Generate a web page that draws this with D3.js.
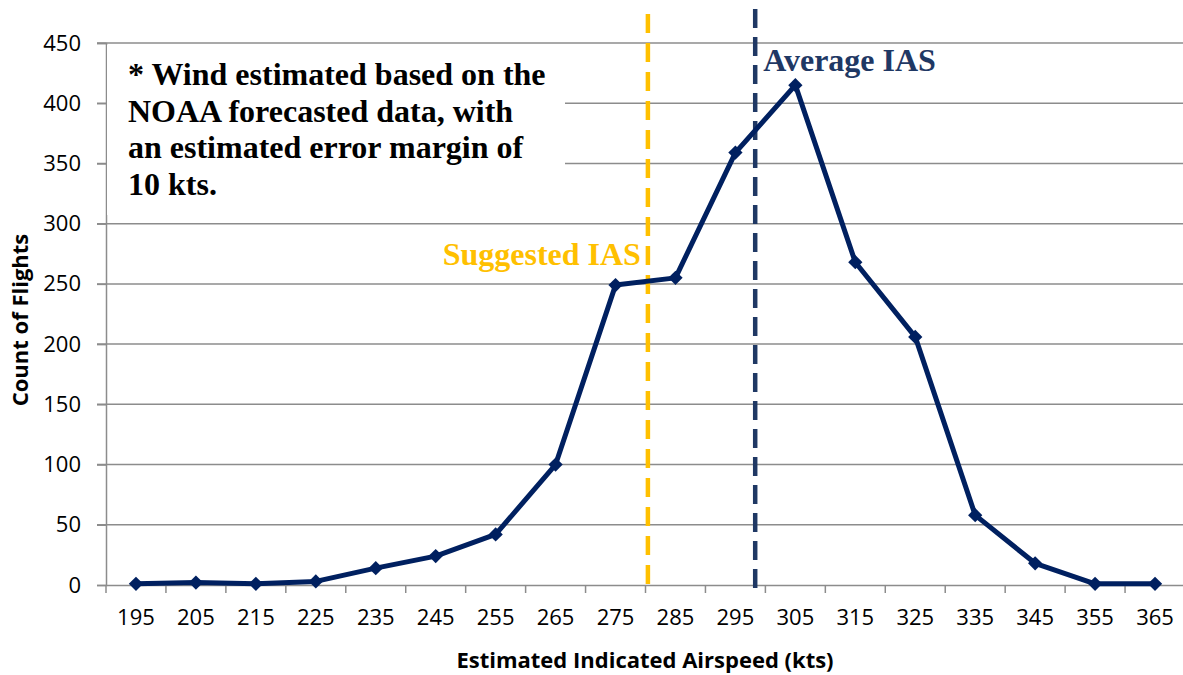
<!DOCTYPE html>
<html>
<head>
<meta charset="utf-8">
<script src="https://cdn.jsdelivr.net/npm/d3@7"></script>
<style>
  body { margin: 0; background: #fff; }
  svg { display: block; }
</style>
</head>
<body>
<svg></svg>
<script>
let speeds = [195, 205, 215, 225, 235, 245, 255, 265, 275, 285, 295, 305, 315, 325, 335, 345, 355, 365];
let counts = [1, 2, 1, 3, 14, 24, 42, 100, 249, 255, 359, 415, 268, 206, 58, 18, 1, 1];
let yTicks = [0, 50, 100, 150, 200, 250, 300, 350, 400, 450];
let suggestedIAS = 280.4;
let averageIAS = 298.3;
let noteLines = ['* Wind estimated based on the', 'NOAA forecasted data, with', 'an estimated error margin of', '10 kts.'];

let width = 1183;
let height = 675;
let margin = { top: 43, right: -2, bottom: 90, left: 106 };

let svg = d3.select('svg')
    .attr('width', width)
    .attr('height', height);

let x = d3.scaleBand()
    .domain(speeds)
    .range([margin.left, width - margin.right]);

// continuous helper for the reference lines
let xLin = d3.scaleLinear()
    .domain([speeds[0], speeds[speeds.length - 1]])
    .range([x(speeds[0]) + x.bandwidth() / 2, x(speeds[speeds.length - 1]) + x.bandwidth() / 2]);

let y = d3.scaleLinear()
    .domain([0, 450])
    .range([height - margin.bottom, margin.top]);

let grid = '#8c8c8c';
let serif = 'Liberation Serif, Times New Roman, serif';
let sans = 'Open Sans, sans-serif';

// gridlines
svg.append('g')
    .selectAll('line')
    .data(yTicks.filter(d => d > 0))
    .enter()
    .append('line')
        .attr('x1', margin.left - 9)
        .attr('x2', width - margin.right)
        .attr('y1', d => y(d))
        .attr('y2', d => y(d))
        .attr('stroke', grid)
        .attr('stroke-width', 1.5);

// y axis
let yAxis = svg.append('g')
    .attr('transform', `translate(${margin.left},0)`)
    .call(d3.axisLeft(y).tickValues(yTicks).tickSize(9).tickPadding(16));
yAxis.select('.domain').attr('stroke', grid).attr('stroke-width', 1.5);
yAxis.selectAll('.tick line').attr('stroke', grid).attr('stroke-width', 1.5);
yAxis.selectAll('text')
    .attr('font-family', sans)
    .attr('font-size', 22)
    .attr('fill', '#000');

// x axis
let xAxis = svg.append('g')
    .attr('transform', `translate(0,${y(0)})`)
    .call(d3.axisBottom(x).tickSize(0).tickPadding(24));
xAxis.select('.domain').attr('stroke', grid).attr('stroke-width', 1.5);
xAxis.selectAll('text')
    .attr('font-family', sans)
    .attr('font-size', 22)
    .attr('fill', '#000');
// ticks between categories
xAxis.selectAll('.cat-tick')
    .data(speeds)
    .enter()
    .append('line')
        .attr('x1', d => x(d))
        .attr('x2', d => x(d))
        .attr('y1', 0)
        .attr('y2', 8)
        .attr('stroke', grid)
        .attr('stroke-width', 1.5);

// annotation box
let note = svg.append('g');
note.append('rect')
    .attr('x', margin.left + 1)
    .attr('y', margin.top + 2)
    .attr('width', 458)
    .attr('height', 170)
    .attr('fill', '#fff');
note.append('text')
    .attr('font-family', serif)
    .attr('font-weight', 'bold')
    .attr('font-size', 32)
    .attr('fill', '#000')
    .selectAll('tspan')
    .data(noteLines)
    .enter()
    .append('tspan')
        .attr('x', 128)
        .attr('y', (d, i) => 85 + i * 36.7)
        .text(d => d);

// reference lines
svg.append('line')
    .attr('x1', xLin(suggestedIAS))
    .attr('x2', xLin(suggestedIAS))
    .attr('y1', 14)
    .attr('y2', y(0))
    .attr('stroke', '#ffc000')
    .attr('stroke-width', 4.5)
    .attr('stroke-dasharray', '19 10');

svg.append('line')
    .attr('x1', xLin(averageIAS))
    .attr('x2', xLin(averageIAS))
    .attr('y1', 9)
    .attr('y2', y(0) + 6)
    .attr('stroke', '#1f3864')
    .attr('stroke-width', 4.5)
    .attr('stroke-dasharray', '19 9');

// data line
let line = d3.line()
    .x((d, i) => x(speeds[i]) + x.bandwidth() / 2)
    .y(d => y(d));

svg.append('path')
    .datum(counts)
    .attr('fill', 'none')
    .attr('stroke', '#002060')
    .attr('stroke-width', 5)
    .attr('stroke-linejoin', 'round')
    .attr('d', line);

svg.append('g')
    .selectAll('path')
    .data(counts)
    .enter()
    .append('path')
        .attr('d', d3.symbol().type(d3.symbolDiamond2).size(130))
        .attr('transform', (d, i) => `translate(${x(speeds[i]) + x.bandwidth() / 2},${y(d)})`)
        .attr('fill', '#002060');

// labels for reference lines
svg.append('text')
    .attr('x', xLin(suggestedIAS) - 7)
    .attr('y', 265)
    .attr('text-anchor', 'end')
    .attr('font-family', serif)
    .attr('font-weight', 'bold')
    .attr('font-size', 32)
    .attr('fill', '#ffc000')
    .text('Suggested IAS');

svg.append('text')
    .attr('x', xLin(averageIAS) + 8)
    .attr('y', 71)
    .attr('font-family', serif)
    .attr('font-weight', 'bold')
    .attr('font-size', 32)
    .attr('fill', '#1f3864')
    .text('Average IAS');

// axis titles
svg.append('text')
    .attr('x', 645)
    .attr('y', 668)
    .attr('text-anchor', 'middle')
    .attr('font-family', sans)
    .attr('font-weight', 'bold')
    .attr('font-size', 22)
    .text('Estimated Indicated Airspeed (kts)');

svg.append('text')
    .attr('transform', 'translate(28,320) rotate(-90)')
    .attr('text-anchor', 'middle')
    .attr('font-family', sans)
    .attr('font-weight', 'bold')
    .attr('font-size', 22)
    .text('Count of Flights');
</script>
</body>
</html>
